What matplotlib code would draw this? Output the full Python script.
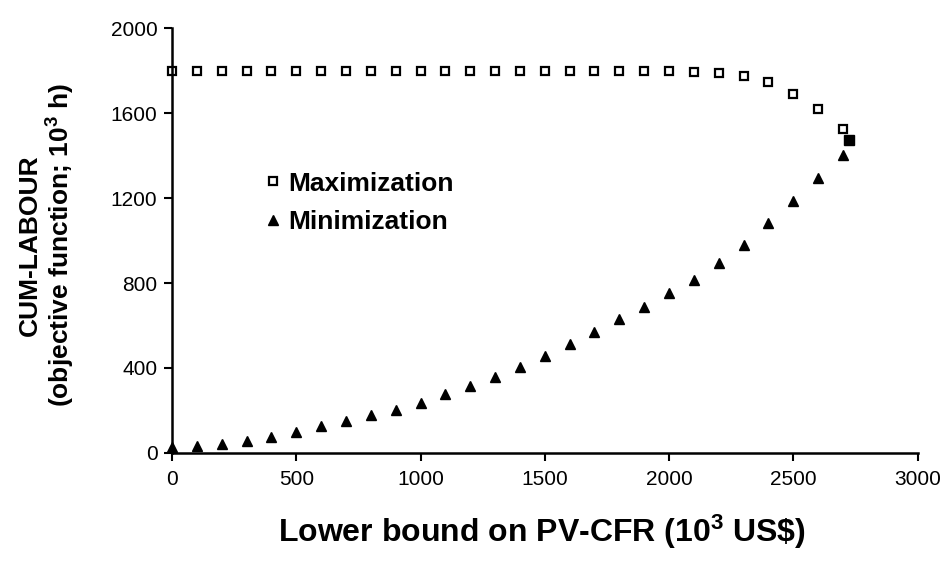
import matplotlib
matplotlib.use("Agg")
import matplotlib.pyplot as plt

plt.rcParams['font.family'] = ['Liberation Sans', 'DejaVu Sans']
plt.rcParams['mathtext.default'] = 'regular'

# Maximization series
max_x = [0, 100, 200, 300, 400, 500, 600, 700, 800, 900, 1000, 1100, 1200, 1300,
         1400, 1500, 1600, 1700, 1800, 1900, 2000, 2100, 2200, 2300, 2400, 2500,
         2600, 2700]
max_y = [1800, 1800, 1800, 1800, 1800, 1800, 1800, 1800, 1800, 1800, 1800, 1800,
         1800, 1800, 1800, 1800, 1800, 1800, 1800, 1800, 1800, 1793, 1788, 1776,
         1746, 1689, 1619, 1525]

# Minimization series
min_x = [0, 100, 200, 300, 400, 500, 600, 700, 800, 900, 1000, 1100, 1200, 1300,
         1400, 1500, 1600, 1700, 1800, 1900, 2000, 2100, 2200, 2300, 2400, 2500,
         2600, 2700]
min_y = [30, 34, 41, 58, 77, 100, 127, 152, 179, 202, 237, 276, 315, 356, 405,
         458, 513, 571, 629, 688, 751, 812, 893, 980, 1081, 1187, 1295, 1404]

# Point where maximum and minimum coincide
joint_x = [2726]
joint_y = [1473]

xticks = [0, 500, 1000, 1500, 2000, 2500, 3000]
yticks = [0, 400, 800, 1200, 1600, 2000]

fig = plt.figure(figsize=(9.45, 5.62), dpi=100)
ax = fig.add_axes([0.182, 0.194, 0.789, 0.756])

ax.plot(max_x, max_y, linestyle='none', marker='s', markersize=6.3,
        markerfacecolor='white', markeredgecolor='black', markeredgewidth=1.6,
        label='Maximization', clip_on=False)
ax.plot(min_x, min_y, linestyle='none', marker='^', markersize=7.5,
        color='black', label='Minimization', clip_on=False)
ax.plot(joint_x, joint_y, linestyle='none', marker='s', markersize=6.8,
        color='black', clip_on=False)

ax.set_xlim(0, 3000)
ax.set_ylim(0, 2000)
ax.set_xticks(xticks)
ax.set_yticks(yticks)
ax.tick_params(axis='both', labelsize=15, width=1.5, length=5.5, color='black',
               direction='out')
ax.tick_params(axis='x', pad=7)
ax.tick_params(axis='y', pad=5)
for s in ['top', 'right']:
    ax.spines[s].set_visible(False)
for s in ['left', 'bottom']:
    ax.spines[s].set_linewidth(1.8)

ax.set_xlabel('Lower bound on PV-CFR (10$^3$ US\\$)', fontsize=23,
              fontweight='bold')
ax.xaxis.set_label_coords(0.496, -0.140)
ax.set_ylabel('CUM-LABOUR\n(objective function; 10$^3$ h)', fontsize=19,
              fontweight='bold', linespacing=1.15)
ax.yaxis.set_label_coords(-0.127, 0.49)

leg = ax.legend(loc='upper left', bbox_to_anchor=(0.125, 0.662), frameon=False,
                fontsize=19, handlelength=0.6, handletextpad=0.27,
                labelspacing=0.55, borderaxespad=0, borderpad=0)
for t in leg.get_texts():
    t.set_fontweight('bold')

fig.savefig('out.png', dpi=100)
